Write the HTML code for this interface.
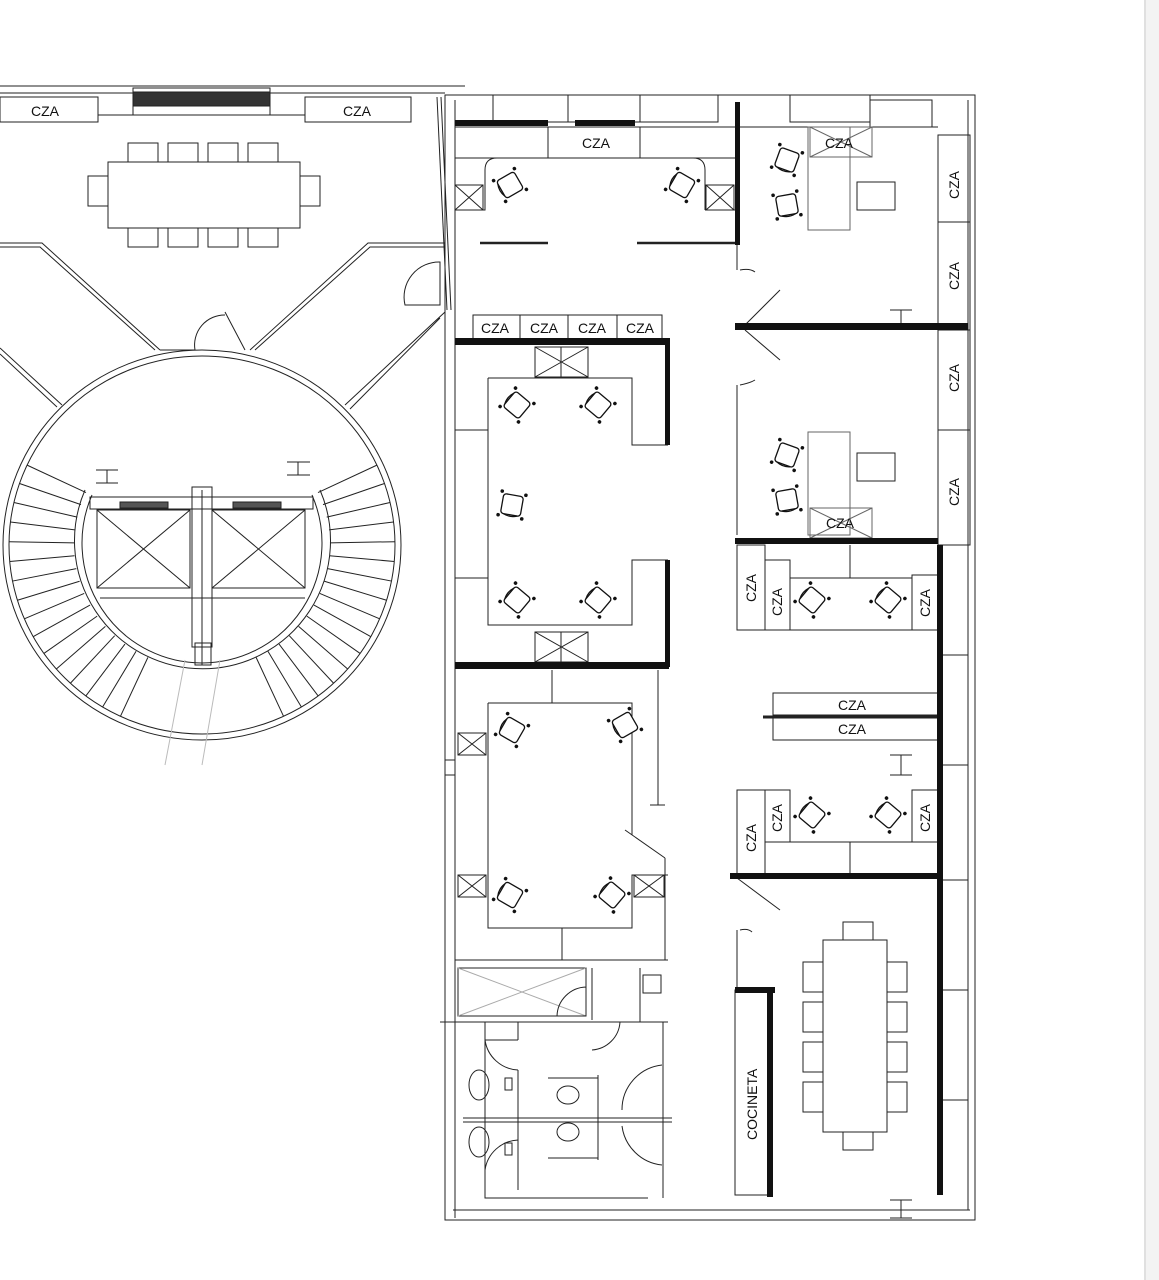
<!DOCTYPE html>
<html><head><meta charset="utf-8"><style>
html,body{margin:0;padding:0;background:#fff}
svg{display:block}
text{font-family:"Liberation Sans",sans-serif;font-size:14px;fill:#111}
</style></head><body>
<svg id="s" width="1159" height="1280" viewBox="0 0 1159 1280" xmlns="http://www.w3.org/2000/svg">
<defs>
<g id="ch"><rect x="-10" y="-10" width="20" height="20" rx="3" fill="#fff" stroke="#111" stroke-width="1.3"/><path d="M-10,-7 Q-13,0 -10,7" fill="none" stroke="#111" stroke-width="1.3"/><circle cx="-12" cy="-12" r="1.8" fill="#111"/><circle cx="12" cy="-12" r="1.8" fill="#111"/><circle cx="-12" cy="12" r="1.8" fill="#111"/><circle cx="12" cy="12" r="1.8" fill="#111"/></g>
</defs>
<rect x="1144" y="0" width="15" height="1280" fill="#f3f3f3"/>
<line x1="1145" y1="0" x2="1145" y2="1280" stroke="#ccc"/>
<g fill="none" stroke="#222" stroke-width="1">
<line x1="0" y1="86" x2="465" y2="86"/>
<line x1="0" y1="93" x2="445" y2="93"/>
<rect x="0" y="97" width="98" height="25"/>
<rect x="305" y="97" width="106" height="25"/>
<rect x="133" y="88" width="137" height="27"/>
<rect x="133" y="92" width="137" height="14" fill="#333"/>
<line x1="98" y1="115" x2="133" y2="115"/><line x1="270" y1="115" x2="305" y2="115"/>
<rect x="108" y="162" width="192" height="66"/>
<rect x="128" y="143" width="30" height="19"/><rect x="168" y="143" width="30" height="19"/><rect x="208" y="143" width="30" height="19"/><rect x="248" y="143" width="30" height="19"/>
<rect x="128" y="228" width="30" height="19"/><rect x="168" y="228" width="30" height="19"/><rect x="208" y="228" width="30" height="19"/><rect x="248" y="228" width="30" height="19"/>
<rect x="88" y="176" width="20" height="30"/><rect x="300" y="176" width="20" height="30"/>
<line x1="437" y1="97" x2="447" y2="310"/><line x1="441" y1="97" x2="451" y2="310"/>
<path d="M0,243 H42 L160,350 M0,247 H40 L155,350"/>
<path d="M445,243 H368 L250,350 M445,247 H370 L255,350"/>
<path d="M0,348 L62,405 M0,354 L57,407"/>
<path d="M445,312 L345,405 M440,318 L350,409"/>
<path d="M160,350 H195 M195,350 A30,30 0 0 1 225,315 M225,312 L245,350"/>
<path d="M405,305 A35,35 0 0 1 440,262 V305 Z"/>
<ellipse cx="202" cy="545" rx="199" ry="195"/>
<ellipse cx="202" cy="545" rx="193" ry="189"/>
<path d="M85,490 A128,128 0 1 0 320,490"/>
<path d="M92,495 A120,120 0 1 0 312,495"/>
<g id="stairs"></g>
<rect x="90" y="497" width="223" height="12"/>
<rect x="97" y="510" width="93" height="78"/><path d="M97,510 L190,588 M190,510 L97,588"/>
<rect x="212" y="510" width="93" height="78"/><path d="M212,510 L305,588 M305,510 L212,588"/>
<rect x="120" y="502" width="48" height="6" fill="#555"/><rect x="233" y="502" width="48" height="6" fill="#555"/>
<rect x="192" y="487" width="20" height="160"/>
<line x1="202" y1="490" x2="202" y2="665"/>
<line x1="100" y1="598" x2="305" y2="598"/>
<path d="M96,470 H118 M107,470 V483 M96,483 H118 M287,462 H310 M298,462 V475 M287,475 H310"/>
<rect x="195" y="643" width="16" height="22"/>
<path d="M185,660 L165,765 M220,660 L202,765" stroke="#bbb"/>
<rect x="445" y="95" width="530" height="1125"/>
<line x1="455" y1="100" x2="455" y2="1218"/>
<line x1="453" y1="1210" x2="970" y2="1210"/>
<line x1="968" y1="100" x2="968" y2="1210"/>
<rect x="493" y="95" width="75" height="27"/><rect x="568" y="95" width="72" height="27"/><rect x="640" y="95" width="78" height="27"/><rect x="790" y="95" width="80" height="27"/><rect x="870" y="100" width="62" height="27"/>
<line x1="455" y1="127" x2="938" y2="127"/>
<rect x="548" y="127" width="92" height="31"/>
<path d="M455,158 H548 M640,158 H737"/>
<path d="M455,210 H485 V170 Q485,158 497,158 M705,210 H737 M705,210 V170 Q705,158 693,158"/>
<rect x="455" y="185" width="28" height="25"/><path d="M455,185 L483,210 M483,185 L455,210"/>
<rect x="706" y="185" width="28" height="25"/><path d="M706,185 L734,210 M734,185 L706,210"/>
<path d="M480,243 H548 M637,243 H737" stroke-width="2.5"/>
<rect x="808" y="127" width="42" height="103" stroke="#666"/>
<rect x="810" y="127" width="62" height="30" stroke="#666"/><path d="M810,127 L872,157 M872,127 L810,157" stroke="#666"/>
<rect x="857" y="182" width="38" height="28"/>
<rect x="938" y="135" width="32" height="410"/>
<path d="M938,222 H970 M938,330 H970 M938,430 H970"/>
<path d="M737,245 V270 M737,385 V535 M740,270 Q750,268 755,272 M740,385 Q750,383 755,380"/>
<path d="M745,325 L780,290 M745,330 L780,360"/>
<path d="M890,310 H912 M901,310 V325"/>
<rect x="808" y="432" width="42" height="103" stroke="#666"/>
<rect x="810" y="508" width="62" height="30" stroke="#666"/><path d="M810,508 L872,538 M872,508 L810,538" stroke="#666"/>
<rect x="857" y="453" width="38" height="28"/>
<path d="M765,545 V630 M737,630 H938 M790,578 H912 M850,545 V578 M912,575 V630"/>
<rect x="737" y="545" width="28" height="85"/><rect x="765" y="560" width="25" height="70"/><rect x="912" y="575" width="26" height="55"/>
<rect x="773" y="693" width="165" height="22"/><rect x="773" y="717" width="165" height="23"/>
<line x1="763" y1="717" x2="938" y2="717" stroke-width="3"/>
<path d="M890,755 H912 M901,755 V775 M890,775 H912"/>
<rect x="737" y="790" width="28" height="85"/><rect x="765" y="790" width="25" height="52"/><rect x="912" y="790" width="26" height="52"/>
<path d="M790,842 H938 M850,842 V875"/>
<path d="M941,545 V1195 M941,655 H968 M941,765 H968 M941,880 H968 M941,990 H968 M941,1100 H968"/>
<path d="M737,878 L780,910 M737,930 V990 M740,930 Q748,928 752,932"/>
<rect x="823" y="940" width="64" height="192"/>
<rect x="843" y="922" width="30" height="18"/><rect x="843" y="1132" width="30" height="18"/>
<rect x="803" y="962" width="20" height="30"/><rect x="803" y="1002" width="20" height="30"/><rect x="803" y="1042" width="20" height="30"/><rect x="803" y="1082" width="20" height="30"/>
<rect x="887" y="962" width="20" height="30"/><rect x="887" y="1002" width="20" height="30"/><rect x="887" y="1042" width="20" height="30"/><rect x="887" y="1082" width="20" height="30"/>
<rect x="735" y="990" width="35" height="205"/>
<path d="M890,1200 H912 M901,1200 V1218 M890,1218 H912"/>
<rect x="473" y="315" width="189" height="25"/>
<path d="M520,315 V340 M568,315 V340 M617,315 V340"/>
<path d="M455,430 H488 M455,578 H488 M488,378 H632 V445 H668 M488,378 V625 H632 V560 H668"/>
<rect x="535" y="347" width="53" height="30"/><path d="M535,347 L588,377 M588,347 L535,377 M561,347 V377"/>
<rect x="535" y="632" width="53" height="30"/><path d="M535,632 L588,662 M588,632 L535,662 M561,632 V662"/>
<path d="M552,670 V703 M488,703 H632 V835 M488,703 V928 H632 V875 H668 M562,928 V960 M455,960 H668"/>
<path d="M658,670 V805 M665,858 V960 M650,805 H665 M625,830 L665,858"/>
<rect x="458" y="733" width="28" height="22"/><path d="M458,733 L486,755 M486,733 L458,755"/>
<rect x="458" y="875" width="28" height="22"/><path d="M458,875 L486,897 M486,875 L458,897"/>
<rect x="634" y="875" width="30" height="22"/><path d="M634,875 L664,897 M664,875 L634,897"/>
<path d="M445,760 H455 M445,775 H455 M445,690 V730 M445,800 V840"/>
<rect x="458" y="968" width="128" height="48"/><path d="M458,968 L586,1016 M586,968 L458,1016" stroke="#aaa"/>
<path d="M586,968 V1016 H557 M557,1016 A30,30 0 0 1 586,987 M592,968 V1020 M592,1050 A30,30 0 0 0 620,1022 M640,968 V1022 H668 M440,1022 H668"/>
<rect x="643" y="975" width="18" height="18"/>
<path d="M485,1022 V1198 H648 M663,1022 V1198 M485,1040 H518 M518,1022 V1040 M518,1070 V1190"/>
<path d="M485,1040 A35,35 0 0 0 518,1070 M485,1170 A35,35 0 0 1 518,1140"/>
<path d="M463,1118 H672 M463,1122 H672"/>
<path d="M548,1078 H598 M548,1158 H598 M598,1075 V1160"/>
<ellipse cx="479" cy="1085" rx="10" ry="15"/><ellipse cx="479" cy="1142" rx="10" ry="15"/>
<ellipse cx="568" cy="1095" rx="11" ry="9"/><ellipse cx="568" cy="1132" rx="11" ry="9"/>
<path d="M662,1065 A45,45 0 0 0 622,1110 M622,1126 A45,45 0 0 0 662,1165"/>
<rect x="505" y="1078" width="7" height="12"/><rect x="505" y="1143" width="7" height="12"/>
</g>
<g fill="#111">
<rect x="455" y="120" width="93" height="6"/><rect x="575" y="120" width="60" height="6"/>
<rect x="735" y="102" width="5" height="143"/>
<rect x="735" y="323" width="233" height="7"/>
<rect x="735" y="538" width="203" height="6"/>
<rect x="937" y="545" width="6" height="650"/>
<rect x="455" y="338" width="214" height="7"/><rect x="665" y="338" width="5" height="107"/><rect x="665" y="560" width="5" height="107"/>
<rect x="455" y="662" width="214" height="7"/>
<rect x="730" y="873" width="210" height="6"/>
<rect x="735" y="987" width="40" height="6"/><rect x="767" y="987" width="6" height="210"/>
</g>
<g id="chairs"></g>
<g>
<text x="31" y="116">CZA</text><text x="343" y="116">CZA</text>
<text x="582" y="148">CZA</text><text x="825" y="148">CZA</text><text x="826" y="528">CZA</text>
<text x="481" y="333">CZA</text><text x="530" y="333">CZA</text><text x="578" y="333">CZA</text><text x="626" y="333">CZA</text>
<text x="838" y="710">CZA</text><text x="838" y="734">CZA</text>
<text transform="translate(959,199) rotate(-90)">CZA</text><text transform="translate(959,290) rotate(-90)">CZA</text>
<text transform="translate(959,392) rotate(-90)">CZA</text><text transform="translate(959,506) rotate(-90)">CZA</text>
<text transform="translate(756,602) rotate(-90)">CZA</text><text transform="translate(782,616) rotate(-90)">CZA</text><text transform="translate(930,617) rotate(-90)">CZA</text>
<text transform="translate(756,852) rotate(-90)">CZA</text><text transform="translate(782,832) rotate(-90)">CZA</text><text transform="translate(930,832) rotate(-90)">CZA</text>
<text transform="translate(757,1140) rotate(-90)">COCINETA</text>
</g>
</svg>
<script>
var NS="http://www.w3.org/2000/svg";
var st=document.getElementById("stairs");
function ln(a,b,c,d){var l=document.createElementNS(NS,"line");l.setAttribute("x1",a);l.setAttribute("y1",b);l.setAttribute("x2",c);l.setAttribute("y2",d);st.appendChild(l);}
var cx=202,cy=545;
function tread(a){var r=a*Math.PI/180; var dx=Math.cos(r),dy=Math.sin(r); ln(cx+dx*128,cy+dy*124,cx+dx*193,cy+dy*189);}
for(var a=115;a<=210;a+=6) tread(a);
for(var a=-25;a<=65;a+=6) tread(a);
var chs=[[510,185,-30],[682,185,30],[787,160,-70],[787,205,-100],[517,405,40],[598,405,40],[512,505,-80],[517,600,40],[598,600,40],[512,730,30],[625,725,-30],[510,895,30],[612,895,40],[812,600,40],[888,600,40],[812,815,40],[888,815,40],[787,455,-70],[787,500,-100]];
var cg=document.getElementById("chairs");
chs.forEach(function(c){var u=document.createElementNS(NS,"use");u.setAttribute("href","#ch");u.setAttribute("transform","translate("+c[0]+","+c[1]+") rotate("+c[2]+")");cg.appendChild(u);});
</script>
</body></html>
